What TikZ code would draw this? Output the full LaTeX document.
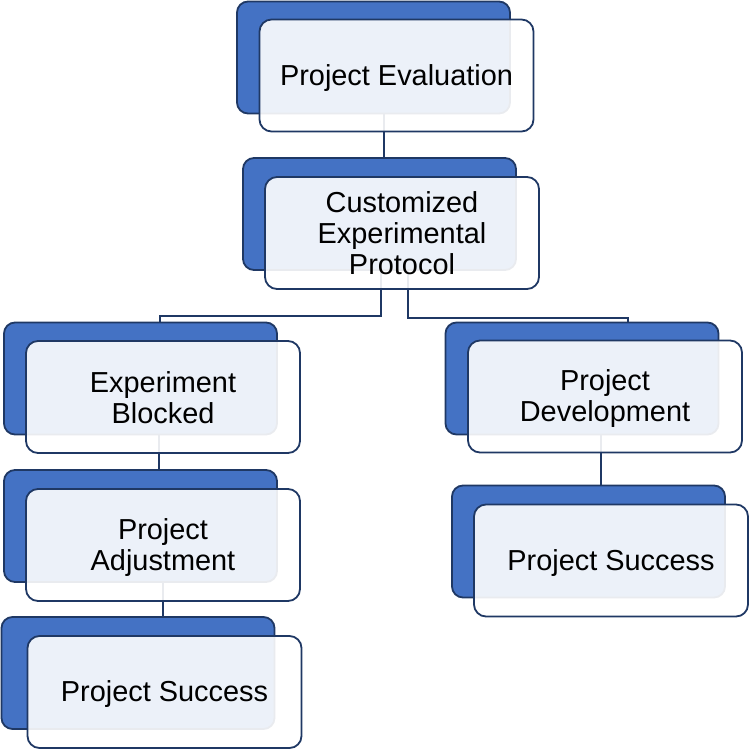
\documentclass[tikz,border=0pt]{standalone}
\usepackage{fontspec}
\setmainfont{Liberation Sans}
\definecolor{backblue}{HTML}{4472C4}
\definecolor{navy}{HTML}{1F3864}
\begin{document}
\begin{tikzpicture}[x=1pt,y=-1pt,
  backbox/.style={draw=navy, line width=1.8pt, fill=backblue, rounded corners=11pt,
    minimum width=273pt, minimum height=112pt, inner sep=0pt, outer sep=0pt},
  frontbox/.style={draw=navy, line width=1.8pt, fill=white, fill opacity=0.9,
    rounded corners=12pt, minimum width=274pt, minimum height=112pt, inner sep=0pt, outer sep=0pt},
  boxtext/.style={align=center, font=\fontsize{28.9pt}{31pt}\selectfont, text=black, inner sep=0pt},
  link/.style={draw=navy, line width=1.3pt}]
\useasboundingbox (0,0) rectangle (749,749);
% back boxes
\node[backbox] (b1) at (373.5,57.5) {};
\node[backbox] (b2) at (379.5,214) {};
\node[backbox] (b3) at (140.5,378.5) {};
\node[backbox] (b4) at (582,378.5) {};
\node[backbox] (b5) at (140.5,526) {};
\node[backbox] (b6) at (588.5,541.5) {};
\node[backbox] (b7) at (138,673) {};
% connectors
\draw[link] ([xshift=10.5pt]b1.south) -- ([xshift=4.5pt]b2.north);
\draw[link] ([xshift=1.5pt]b2.south) -- ++(0,46) -| ([xshift=19.5pt]b3.north);
\draw[link] ([xshift=28.5pt]b2.south) -- ++(0,48) -| ([xshift=46pt]b4.north);
\draw[link] ([xshift=18.5pt]b3.south) -- ([xshift=18.5pt]b5.north);
\draw[link] ([xshift=19pt]b4.south) -- ([xshift=12.5pt]b6.north);
\draw[link] ([xshift=22.5pt]b5.south) -- ([xshift=25pt]b7.north);
% front boxes
\node[frontbox] (f1) at (396.5,75.5) {};
\node[frontbox] (f2) at (402,233) {};
\node[frontbox] (f3) at (163,397) {};
\node[frontbox] (f4) at (605,396.5) {};
\node[frontbox] (f5) at (163,545) {};
\node[frontbox] (f6) at (611,560.5) {};
\node[frontbox] (f7) at (164.5,692) {};
% texts
\node[boxtext] (t1) at ([yshift=-2.5pt]f1.center) {Project Evaluation};
\node[boxtext] (t2) at ([yshift=-0.5pt]f2.center) {Customized\\Experimental\\Protocol};
\node[boxtext] (t3) at ([yshift=-1pt]f3.center) {Experiment\\Blocked};
\node[boxtext] (t4) at ([yshift=-2.5pt]f4.center) {Project\\Development};
\node[boxtext] (t5) at ([yshift=-2.5pt]f5.center) {Project\\Adjustment};
\node[boxtext] (t6) at ([yshift=-2.5pt]f6.center) {Project Success};
\node[boxtext] (t7) at ([yshift=-2.5pt]f7.center) {Project Success};
\end{tikzpicture}
\end{document}
